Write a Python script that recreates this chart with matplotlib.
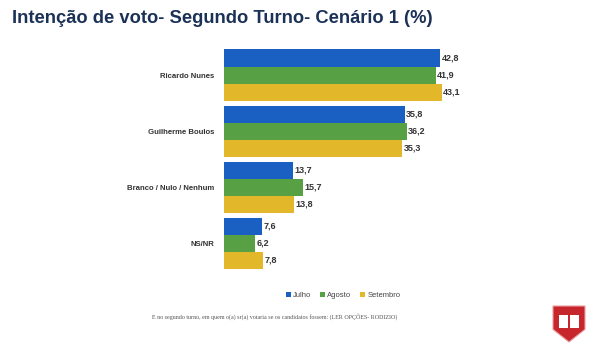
import numpy as np
import matplotlib.pyplot as plt
from matplotlib.patches import Polygon, Rectangle

plt.rcParams["font.family"] = ["Liberation Sans", "DejaVu Sans"]

categories = ["Ricardo Nunes", "Guilherme Boulos", "Branco / Nulo / Nenhum", "NS/NR"]
months = ["Julho", "Agosto", "Setembro"]
julho = [42.8, 35.8, 13.7, 7.6]
agosto = [41.9, 36.2, 15.7, 6.2]
setembro = [43.1, 35.3, 13.8, 7.8]
colors = ["#1a5fc2", "#57a044", "#e2b82a"]

fig = plt.figure(figsize=(6, 3.5), dpi=100)
ax = fig.add_axes([0.3733, 0.2314, 0.4208, 0.6272])

h = 17 / 56
y = np.arange(len(categories))
for k, (vals, c) in enumerate(zip([julho, agosto, setembro], colors)):
    pos = y + (k - 1) * h
    ax.barh(pos, vals, height=h, color=c, label=months[k])
    for p, v in zip(pos, vals):
        ax.text(v + 0.3, p, f"{v:.1f}".replace(".", ","), va="center", ha="left",
                fontsize=6.5, fontweight="bold", color="#333333")

ax.set_xlim(0, 50)
ax.set_ylim(len(categories) - 1 + 1.5 * h, -1.5 * h)
ax.set_yticks(y)
ax.set_yticklabels(categories, fontsize=5.6, fontweight="bold", color="#333333")
ax.tick_params(axis="y", length=0, pad=7)
ax.set_xticks([])
for s in ax.spines.values():
    s.set_visible(False)

fig.text(0.02, 0.948, "Intenção de voto- Segundo Turno- Cenário 1 (%)", fontsize=13.2,
         fontweight="bold", color="#1b3157", va="center", ha="left")

leg = fig.legend(loc="center", bbox_to_anchor=(0.572, 0.155), ncol=3, frameon=False,
                 fontsize=5.5, handlelength=0.6, handleheight=0.6, handletextpad=0.3,
                 columnspacing=1.2)
for t in leg.get_texts():
    t.set_color("#444444")

fig.text(0.458, 0.094, "E no segundo turno, em quem o(a) sr(a) votaria se os candidatos fossem: (LER OPÇÕES- RODIZIO)",
         fontsize=4.3, family="Liberation Serif", color="#555555", ha="center", va="center")

# small shield emblem in the corner
sx, sy, sw, sh = 553 / 600, 1 - 342 / 350, 32 / 600, 36 / 350
shield = Polygon([(sx, sy + sh), (sx + sw, sy + sh), (sx + sw, sy + sh * 0.35),
                  (sx + sw / 2, sy), (sx, sy + sh * 0.35)], closed=True,
                 transform=fig.transFigure, facecolor="#c8262d", edgecolor="#e8a0a0", lw=0.8)
fig.add_artist(shield)
fig.add_artist(Rectangle((sx + sw * 0.2, sy + sh * 0.4), sw * 0.6, sh * 0.35,
                         transform=fig.transFigure, facecolor="white", edgecolor="none"))
fig.add_artist(Rectangle((sx + sw * 0.48, sy + sh * 0.4), sw * 0.04, sh * 0.35,
                         transform=fig.transFigure, facecolor="#c8262d", edgecolor="none"))

fig.savefig("out.png", dpi=100)
